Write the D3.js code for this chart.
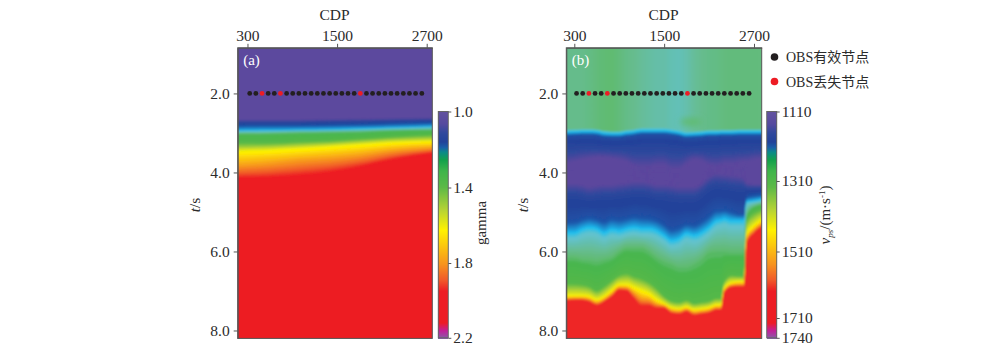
<!DOCTYPE html>
<html>
<head>
<meta charset="utf-8">
<script src="https://cdn.jsdelivr.net/npm/d3@7"></script>
<style>
  body { margin: 0; background: #fff; }
  svg { display: block; }
  text { font-family: "Liberation Serif", "Noto Sans CJK SC", serif; fill: #2b2b2b; }
  .domain, .tick line { stroke: #555; }
</style>
</head>
<body>
<script>
// tick labels
var cdpTicks = [300, 1500, 2700];
var timeTicks = [2, 4, 6, 8];
var gammaTicks = [1.0, 1.4, 1.8, 2.2];
var velTicks = [1110, 1310, 1510, 1710, 1740];

// OBS nodes along the 2 s line
var obsCdp = [330, 412, 495, 577, 659, 741, 824, 906, 988, 1070, 1153, 1235, 1317, 1400, 1482,
    1564, 1646, 1729, 1811, 1893, 1975, 2058, 2140, 2222, 2304, 2387, 2469, 2551, 2635];
var obsLost = [495, 741, 1811];
var obsTime = 2.0;

// colour bar stops, top (0) to bottom (1)
var barPos = [0, 0.05, 0.09, 0.13, 0.155, 0.175, 0.21, 0.26, 0.33, 0.43, 0.52, 0.67, 0.74, 0.79, 0.93, 0.965, 1];
var barCol = ["#62529f", "#564a9f", "#30489d", "#22429a", "#1a5fa8", "#0b8a8a", "#12a14b", "#3fb54a", "#5cb947",
    "#b5d334", "#fff200", "#f7941e", "#f15a29", "#ed1c24", "#ed1c24", "#c2209a", "#8560a8"];
// the sections show a brighter cyan/teal than the bar does
var fieldPos = [0, 0.05, 0.09, 0.13, 0.155, 0.178, 0.2, 0.225, 0.24, 0.25, 0.33, 0.43, 0.52, 0.67, 0.74, 0.79, 1];
var fieldCol = ["#5d4b9f", "#5b469d", "#30489d", "#22429a", "#1f55a8", "#1cc0f0", "#63c2cc", "#66bc90", "#60bb70", "#48b650",
    "#55b848", "#b5d334", "#fff200", "#f7941e", "#f15a29", "#ed1c24", "#ed1c24"];

// (a) gamma section: time of each gamma level at these CDP columns
var gammaCdp = [170, 600, 1000, 1400, 1800, 2200, 2780];
var gammaLevels = [1.04, 1.12, 1.18, 1.21, 1.29, 1.40, 1.62, 1.80, 1.95];
var gammaTimes = [
    [2.64, 2.64, 2.64, 2.63, 2.62, 2.61, 2.60],
    [2.72, 2.72, 2.72, 2.71, 2.70, 2.69, 2.67],
    [2.81, 2.80, 2.80, 2.79, 2.78, 2.76, 2.73],
    [2.94, 2.93, 2.92, 2.91, 2.89, 2.87, 2.83],
    [3.02, 3.01, 2.99, 2.98, 2.97, 2.94, 2.92],
    [3.25, 3.25, 3.22, 3.20, 3.15, 3.10, 3.04],
    [3.48, 3.44, 3.40, 3.35, 3.30, 3.25, 3.21],
    [3.85, 3.78, 3.70, 3.65, 3.58, 3.47, 3.37],
    [4.13, 4.11, 4.06, 3.98, 3.85, 3.68, 3.47]
];

// (b) velocity section: time of each velocity level at these CDP columns
var velCdp = [200, 300, 400, 500, 600, 700, 800, 900, 1000, 1100, 1200, 1300, 1400, 1500,
    1600, 1700, 1800, 1900, 2000, 2100, 2200, 2260, 2300, 2400, 2500, 2570, 2600, 2700, 2800];
// shallow velocity above the first horizon, one per column
var velShallow = [1258, 1258, 1258, 1260, 1263, 1265, 1266, 1263, 1259, 1257, 1254, 1252, 1250, 1250,
    1247, 1246, 1249, 1254, 1257, 1259, 1260, 1261, 1262, 1263, 1263, 1263, 1263, 1263, 1262];
var velBlob = {cdp: 1860, time: 2.72, vel: 1266};
var velLevels = [1240, 1225, 1201, 1188, 1142, 1142, 1188, 1207, 1225, 1240, 1269, 1324, 1447, 1620];
var velTimes = [
    [2.93, 2.92, 2.91, 2.91, 2.92, 2.96, 2.97, 2.97, 2.94, 2.92, 2.89, 2.89, 2.89, 2.89, 2.91, 2.94, 2.98, 2.97, 2.96, 2.94, 2.94, 2.93, 2.93, 2.93, 2.92, 2.92, 2.92, 2.92, 2.92],
    [2.98, 2.97, 2.96, 2.96, 2.97, 3.01, 3.02, 3.02, 2.99, 2.97, 2.94, 2.94, 2.94, 2.94, 2.96, 2.99, 3.03, 3.02, 3.01, 2.99, 2.99, 2.98, 2.98, 2.98, 2.97, 2.97, 2.97, 2.97, 2.97],
    [3.10, 3.09, 3.08, 3.08, 3.09, 3.13, 3.14, 3.14, 3.11, 3.09, 3.06, 3.06, 3.06, 3.06, 3.08, 3.11, 3.15, 3.14, 3.13, 3.11, 3.11, 3.10, 3.10, 3.10, 3.09, 3.09, 3.09, 3.09, 3.09],
    [3.28, 3.28, 3.27, 3.27, 3.28, 3.30, 3.31, 3.31, 3.30, 3.29, 3.28, 3.28, 3.28, 3.28, 3.29, 3.31, 3.34, 3.33, 3.32, 3.30, 3.30, 3.29, 3.29, 3.29, 3.28, 3.28, 3.28, 3.28, 3.28],
    [3.75, 3.70, 3.65, 3.62, 3.60, 3.60, 3.62, 3.65, 3.70, 3.80, 3.83, 3.83, 3.78, 3.78, 3.88, 3.88, 3.75, 3.65, 3.68, 3.78, 3.80, 3.78, 3.75, 3.75, 3.72, 3.70, 3.70, 3.65, 3.62],
    [4.26, 4.26, 4.29, 4.34, 4.31, 4.29, 4.29, 4.26, 4.24, 4.21, 4.21, 4.24, 4.29, 4.29, 4.31, 4.34, 4.34, 4.34, 4.24, 4.08, 4.01, 4.02, 4.03, 4.06, 4.08, 4.15, 4.26, 4.29, 4.29],
    [4.61, 4.61, 4.64, 4.69, 4.66, 4.64, 4.64, 4.61, 4.59, 4.56, 4.56, 4.59, 4.64, 4.64, 4.66, 4.69, 4.69, 4.69, 4.59, 4.43, 4.36, 4.37, 4.38, 4.41, 4.43, 4.44, 4.45, 4.45, 4.45],
    [5.20, 5.17, 5.12, 5.07, 5.12, 5.17, 5.09, 5.12, 5.09, 5.04, 5.07, 5.09, 5.14, 5.25, 5.37, 5.32, 5.25, 5.27, 5.17, 5.02, 4.89, 4.89, 4.89, 4.94, 5.02, 5.02, 4.61, 4.56, 4.51],
    [5.50, 5.50, 5.42, 5.37, 5.40, 5.50, 5.42, 5.45, 5.40, 5.37, 5.40, 5.40, 5.45, 5.57, 5.70, 5.65, 5.52, 5.57, 5.50, 5.37, 5.20, 5.18, 5.15, 5.20, 5.20, 5.20, 4.74, 4.71, 4.64],
    [5.65, 5.65, 5.57, 5.52, 5.55, 5.65, 5.57, 5.60, 5.55, 5.52, 5.55, 5.55, 5.60, 5.72, 5.85, 5.80, 5.67, 5.72, 5.65, 5.52, 5.35, 5.32, 5.30, 5.35, 5.35, 5.35, 4.80, 4.76, 4.70],
    [6.16, 6.16, 6.21, 6.23, 6.26, 6.21, 6.16, 6.01, 5.91, 5.91, 5.91, 6.01, 6.16, 6.26, 6.33, 6.41, 6.41, 6.33, 6.21, 6.03, 6.01, 6.01, 6.01, 6.03, 6.03, 6.03, 5.12, 4.87, 4.77],
    [6.79, 6.79, 6.81, 6.86, 6.97, 6.86, 6.71, 6.58, 6.53, 6.61, 6.66, 6.76, 6.91, 7.12, 7.24, 7.27, 7.22, 7.30, 7.27, 7.24, 7.17, 7.17, 6.76, 6.58, 6.61, 6.61, 5.20, 4.99, 4.87],
    [7.14, 7.12, 7.12, 7.14, 7.22, 7.14, 6.99, 6.84, 6.84, 6.91, 6.99, 7.07, 7.22, 7.32, 7.42, 7.45, 7.40, 7.47, 7.45, 7.42, 7.35, 7.35, 6.94, 6.79, 6.76, 6.76, 5.57, 5.35, 5.12],
    [7.26, 7.22, 7.22, 7.26, 7.35, 7.26, 7.13, 6.96, 6.98, 7.17, 7.35, 7.35, 7.42, 7.42, 7.55, 7.57, 7.51, 7.60, 7.57, 7.54, 7.47, 7.47, 7.04, 6.89, 6.88, 6.88, 5.78, 5.53, 5.27]
];

var svg = d3.select("body").append("svg")
        .attr("width", 1000)
        .attr("height", 353);

var defs = svg.append("defs");
defs.append("filter")
        .attr("id", "soft")
        .attr("filterUnits", "userSpaceOnUse")
        .attr("x", 200).attr("y", 20).attr("width", 600).attr("height", 340)
        .append("feGaussianBlur").attr("stdDeviation", 0.8);
defs.append("filter")
        .attr("id", "softer")
        .attr("filterUnits", "userSpaceOnUse")
        .attr("x", 500).attr("y", 20).attr("width", 300).attr("height", 340)
        .append("feGaussianBlur").attr("stdDeviation", 3);

var plotTop = 47.8, plotBottom = 338.4, barTop = 111.5, barBottom = 337.8;
var fieldColor = d3.scaleLinear().domain(fieldPos).range(fieldCol);
var barColor = d3.scaleLinear().domain(barPos).range(barCol);
var y = d3.scaleLinear().domain([0.845, 8.2]).range([plotTop, plotBottom]);
var subSteps = 8;

function drawSection(p) {
    var x = d3.scaleLinear().domain(p.cdpDomain).range([p.left, p.right]);
    var bar = d3.scaleLinear().domain(p.barTicks)
            .range(p.barTicks.map(function (d, i) { return p.barPixels[i]; }));
    var frac = function (v) { return (bar(v) - barTop) / (barBottom - barTop); };
    var w = p.right - p.left;

    var clipId = "clip" + p.name;
    defs.append("clipPath").attr("id", clipId).append("rect")
            .attr("x", p.left).attr("y", plotTop).attr("width", w).attr("height", plotBottom - plotTop);

    var field = svg.append("g").attr("clip-path", "url(#" + clipId + ")")
            .append("g").attr("filter", "url(#soft)");

    // shallow part, runs sideways through the column values
    var grad = defs.append("linearGradient").attr("id", "shallow" + p.name)
            .attr("gradientUnits", "userSpaceOnUse")
            .attr("x1", p.left).attr("x2", p.right).attr("y1", 0).attr("y2", 0);
    p.columns.forEach(function (c, i) {
        grad.append("stop")
                .attr("offset", Math.max(0, (x(c) - p.left) / w))
                .attr("stop-color", fieldColor(frac(p.shallow[i])));
    });
    field.append("rect")
            .attr("x", p.left - 10).attr("y", plotTop - 10)
            .attr("width", w + 20).attr("height", plotBottom - plotTop + 20)
            .attr("fill", "url(#shallow" + p.name + ")");

    // the column edges get pushed out so the blur does not show white at the frame
    var colX = function (i) {
        if (i === 0) return x(p.columns[i]) - 10;
        if (i === p.columns.length - 1) return x(p.columns[i]) + 10;
        return x(p.columns[i]);
    };
    var area = d3.area()
            .x(function (d, i) { return colX(i); })
            .y0(plotBottom + 10)
            .y1(function (d) { return y(d); })
            .curve(d3.curveMonotoneX);

    // stack level curves top down, each one filling everything below it
    p.times.forEach(function (row, k) {
        var next = p.times[k + 1];
        var steps = next ? subSteps : 1;
        for (var s = 0; s < steps; s++) {
            var m = s / steps;
            var level = next ? p.levels[k] + m * (p.levels[k + 1] - p.levels[k]) : p.levels[k];
            var curve = row.map(function (t, i) { return next ? t + m * (next[i] - t) : t; });
            field.append("path")
                    .attr("d", area(curve))
                    .attr("fill", fieldColor(frac(level)));
        }
    });

    // frame and axes
    svg.append("rect")
            .attr("x", p.left).attr("y", plotTop).attr("width", w).attr("height", plotBottom - plotTop)
            .attr("fill", "none").attr("stroke", "#555");

    svg.append("g")
            .attr("transform", "translate(0," + plotTop + ")")
            .call(d3.axisTop(x).tickValues(cdpTicks).tickFormat(d3.format("d")).tickSize(4).tickSizeOuter(0).tickPadding(3))
            .call(function (g) { g.selectAll("text").attr("font-size", 15.5).attr("font-family", "Liberation Serif"); });
    svg.append("g")
            .attr("transform", "translate(" + p.left + ",0)")
            .call(d3.axisLeft(y).tickValues(timeTicks).tickFormat(d3.format(".1f")).tickSize(4).tickSizeOuter(0).tickPadding(4))
            .call(function (g) { g.selectAll("text").attr("font-size", 15.5).attr("font-family", "Liberation Serif"); });

    svg.append("text")
            .attr("x", (p.left + p.right) / 2 - 0.5).attr("y", 20)
            .attr("text-anchor", "middle").attr("font-size", 15.5)
            .text("CDP");

    var ts = svg.append("text")
            .attr("transform", "translate(" + (p.left - 38) + ",205) rotate(-90)")
            .attr("text-anchor", "middle").attr("font-size", 15.5);
    ts.append("tspan").attr("font-style", "italic").text("t");
    ts.append("tspan").text("/s");

    svg.append("text")
            .attr("x", p.left + 5.5).attr("y", 65)
            .attr("font-size", 15).style("fill", "#fff")
            .text(p.tag);

    // OBS nodes
    svg.append("g").selectAll("circle")
            .data(obsCdp)
            .enter().append("circle")
            .attr("cx", function (d) { return x(d); })
            .attr("cy", y(obsTime))
            .attr("r", 2.4)
            .attr("fill", function (d) { return obsLost.indexOf(d) >= 0 ? "#ed1c24" : "#231f20"; });

    // colour bar
    var barG = svg.append("g");
    barG.selectAll("rect")
            .data(d3.range(barTop, barBottom, 1))
            .enter().append("rect")
            .attr("x", p.barX).attr("y", function (d) { return d; })
            .attr("width", 10).attr("height", 1.2)
            .attr("shape-rendering", "crispEdges")
            .attr("fill", function (d) { return barColor((d - barTop) / (barBottom - barTop)); });
    barG.append("rect")
            .attr("x", p.barX).attr("y", barTop).attr("width", 10).attr("height", barBottom - barTop)
            .attr("fill", "none").attr("stroke", "#666");
    svg.append("g")
            .attr("transform", "translate(" + (p.barX + 10) + ",0)")
            .call(d3.axisRight(bar).tickValues(p.barTicks).tickFormat(p.barFormat).tickSize(3).tickSizeOuter(0).tickPadding(2))
            .call(function (g) {
                g.select(".domain").remove();
                g.selectAll("text").attr("font-size", 15.5).attr("font-family", "Liberation Serif");
            });
    return {x: x, frac: frac, field: field};
}

drawSection({
    name: "a", tag: "(a)", left: 237.7, right: 432.3, cdpDomain: [169, 2775],
    columns: gammaCdp, shallow: gammaCdp.map(function () { return 1.03; }),
    levels: gammaLevels, times: gammaTimes,
    barX: 438.3, barTicks: gammaTicks, barPixels: [barTop, 187.5, 263, barBottom], barFormat: d3.format(".1f")
});

var secB = drawSection({
    name: "b", tag: "(b)", left: 566.3, right: 761.7, cdpDomain: [193, 2803],
    columns: velCdp, shallow: velShallow,
    levels: velLevels, times: velTimes,
    barX: 766.7, barTicks: velTicks, barPixels: [barTop, 181, 251.5, 318, barBottom], barFormat: d3.format("d")
});

// small faster patch above the first horizon in (b)
svg.append("ellipse")
        .attr("cx", secB.x(velBlob.cdp)).attr("cy", y(velBlob.time))
        .attr("rx", 11).attr("ry", 4)
        .attr("fill", fieldColor(secB.frac(velBlob.vel)))
        .attr("filter", "url(#softer)");

// colour bar titles
svg.append("text")
        .attr("transform", "translate(486,223) rotate(-90)")
        .attr("text-anchor", "middle").attr("font-size", 15)
        .text("gamma");

var velTitle = svg.append("text")
        .attr("transform", "translate(830,215) rotate(-90)")
        .attr("text-anchor", "middle").attr("font-size", 15);
velTitle.append("tspan").attr("font-style", "italic").text("v");
velTitle.append("tspan").attr("font-style", "italic").attr("font-size", 9).attr("dy", 3).text("ps");
velTitle.append("tspan").attr("dy", -3).text("/(m·s");
velTitle.append("tspan").attr("font-size", 9).attr("dy", -5).text("-1");
velTitle.append("tspan").attr("dy", 5).text(")");

// legend
var legendNames = ["OBS有效节点", "OBS丢失节点"];
var legendCols = ["#231f20", "#ed1c24"];
var legendY = d3.scalePoint().domain(legendNames).range([57, 81.5]);
legendNames.forEach(function (d, i) {
    svg.append("circle")
            .attr("cx", 774.5).attr("cy", legendY(d)).attr("r", 3.8)
            .attr("fill", legendCols[i]);
    svg.append("text")
            .attr("x", 786).attr("y", legendY(d) + 5)
            .attr("font-size", 14).text(d);
});
</script>
</body>
</html>
